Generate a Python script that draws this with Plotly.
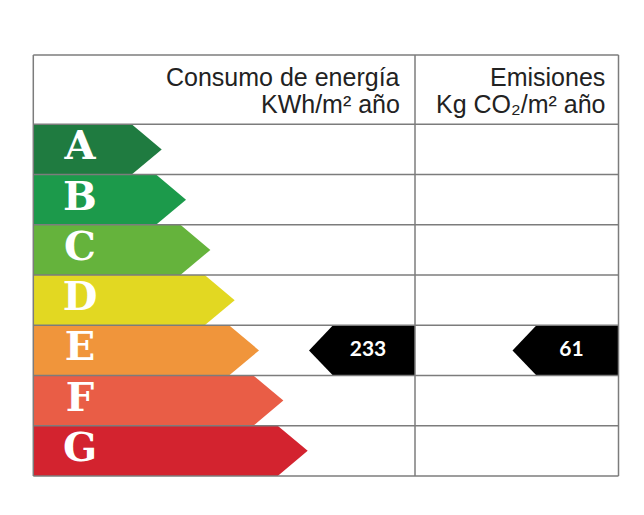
import plotly.graph_objects as go

# Certificado energético: escala A-G, clase del inmueble y valores
classes = ["A", "B", "C", "D", "E", "F", "G"]
rating = "E"
consumo = 233      # KWh/m2 año
emisiones = 61     # Kg CO2/m2 año
header_consumo = ["Consumo de energía", "KWh/m² año"]
header_emisiones = ["Emisiones", "Kg CO₂/m² año"]

COLORS = ["#1f7b40", "#1c9a4b", "#65b33c", "#e2d822", "#f0953b", "#e95d46", "#d3232f"]
GRID = "#7c7c7c"

# table geometry (x in px, y in row units, row i centred on i)
X_LEFT, X_MID, X_RIGHT = 33.3, 415, 618.5
ROW_PX = 50.24
HEADER_TOP = -1.88
BODY0, STEP, TIP = 131.7, 24.33, 30
MARK_LEN, MARK_TIP = 106, 24

fig = go.Figure()

for i, (cls, col) in enumerate(zip(classes, COLORS)):
    body = BODY0 + i * STEP
    fig.add_trace(go.Scatter(
        x=[X_LEFT, body, body + TIP, body, X_LEFT, X_LEFT],
        y=[i - 0.5, i - 0.5, i, i + 0.5, i + 0.5, i - 0.5],
        mode="lines", fill="toself", fillcolor=col,
        line=dict(width=0, color=col), hoverinfo="skip", showlegend=False,
    ))

fig.add_trace(go.Scatter(
    x=[80] * len(classes), y=list(range(len(classes))), text=classes,
    mode="text", hoverinfo="skip", showlegend=False,
    textfont=dict(family="DejaVu Serif", size=40, color="white", weight="bold"),
))

r = classes.index(rating)
for right, val in [(X_MID, consumo), (X_RIGHT, emisiones)]:
    fig.add_trace(go.Scatter(
        x=[right, right - MARK_LEN + MARK_TIP, right - MARK_LEN, right - MARK_LEN + MARK_TIP, right, right],
        y=[r - 0.5, r - 0.5, r, r + 0.5, r + 0.5, r - 0.5],
        mode="lines", fill="toself", fillcolor="black",
        line=dict(width=0, color="black"), hoverinfo="skip", showlegend=False,
    ))
    fig.add_trace(go.Scatter(
        x=[right - MARK_LEN / 2 + 6], y=[r], text=[str(val)],
        mode="text", hoverinfo="skip", showlegend=False,
        textfont=dict(family="Lato", size=21, color="white", weight="bold"),
    ))

# grid
n = len(classes)
for k in range(n + 1):
    fig.add_shape(type="line", x0=X_LEFT, x1=X_RIGHT, y0=k - 0.5, y1=k - 0.5,
                  line=dict(color=GRID, width=1.5), layer="above")
fig.add_shape(type="line", x0=X_LEFT, x1=X_RIGHT, y0=HEADER_TOP, y1=HEADER_TOP,
              line=dict(color=GRID, width=1.5), layer="above")
for xv in [X_LEFT, X_MID, X_RIGHT]:
    fig.add_shape(type="line", x0=xv, x1=xv, y0=HEADER_TOP, y1=n - 0.5,
                  line=dict(color=GRID, width=1.5), layer="above")

# header texts
line_y = [-1.44, -0.90]
for xr, lines in [(402, header_consumo), (607, header_emisiones)]:
    for yy, txt in zip(line_y, lines):
        fig.add_annotation(x=xr, y=yy, text=txt, showarrow=False,
                           xanchor="right", yanchor="middle",
                           font=dict(family="Liberation Sans", size=25, color="#222"))

fig.update_layout(
    width=644, height=515,
    margin=dict(l=0, r=0, t=0, b=0),
    paper_bgcolor="white", plot_bgcolor="white",
    xaxis=dict(range=[0, 644], visible=False, fixedrange=True),
    yaxis=dict(range=[-0.5 + (515 - 124.3) / ROW_PX, -0.5 - 124.3 / ROW_PX],
               visible=False, fixedrange=True),
)

fig.write_html("out.html", config={"displayModeBar": False},
               post_script="document.body.style.margin='0px';")
